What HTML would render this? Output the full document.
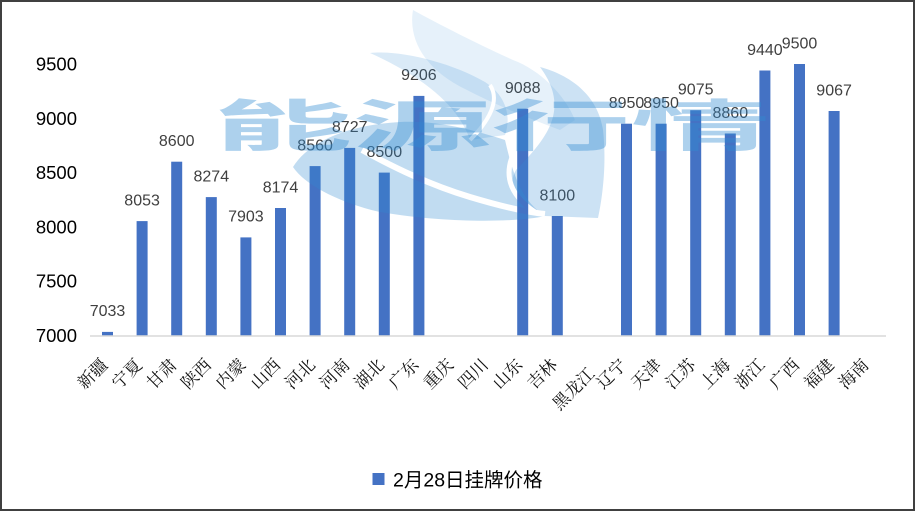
<!DOCTYPE html>
<html><head><meta charset="utf-8"><style>
html,body{margin:0;padding:0;background:#fff;}
svg{display:block;}
</style></head><body>
<svg width="915" height="511" viewBox="0 0 915 511" xmlns="http://www.w3.org/2000/svg">
<rect x="0" y="0" width="915" height="511" fill="#fff"/>
<!-- y labels -->
<g font-family="Liberation Sans, sans-serif" font-size="18.5" fill="#000" text-anchor="end">
<text x="77" y="70.5">9500</text>
<text x="77" y="124.8">9000</text>
<text x="77" y="179.1">8500</text>
<text x="77" y="233.4">8000</text>
<text x="77" y="287.7">7500</text>
<text x="77" y="342">7000</text>
</g>
<!-- bars -->
<g fill="#4472c4">
<rect x="102" y="331.9" width="11" height="3.6"/>
<rect x="136.6" y="221.1" width="11" height="114.4"/>
<rect x="171.2" y="161.7" width="11" height="173.8"/>
<rect x="205.8" y="197.1" width="11" height="138.4"/>
<rect x="240.4" y="237.4" width="11" height="98.1"/>
<rect x="275" y="208.0" width="11" height="127.5"/>
<rect x="309.6" y="166.1" width="11" height="169.4"/>
<rect x="344.2" y="147.9" width="11" height="187.6"/>
<rect x="378.8" y="172.6" width="11" height="162.9"/>
<rect x="413.4" y="95.9" width="11" height="239.6"/>
<rect x="517.2" y="108.7" width="11" height="226.8"/>
<rect x="551.8" y="216.0" width="11" height="119.5"/>
<rect x="621" y="123.7" width="11" height="211.8"/>
<rect x="655.6" y="123.7" width="11" height="211.8"/>
<rect x="690.2" y="110.2" width="11" height="225.3"/>
<rect x="724.8" y="133.5" width="11" height="202"/>
<rect x="759.4" y="70.5" width="11" height="265"/>
<rect x="794" y="64.0" width="11" height="271.5"/>
<rect x="828.6" y="111.0" width="11" height="224.5"/>
</g>
<!-- axis -->
<line x1="90" y1="336" x2="886" y2="336" stroke="#d9d9d9" stroke-width="1.6"/>
<!-- data labels -->
<g font-family="Liberation Sans, sans-serif" font-size="16" fill="#404040" text-anchor="middle">
<text x="107.5" y="316.2">7033</text>
<text x="142.1" y="205.4">8053</text>
<text x="176.7" y="146">8600</text>
<text x="211.3" y="181.4">8274</text>
<text x="245.9" y="221.7">7903</text>
<text x="280.5" y="192.3">8174</text>
<text x="315.1" y="150.4">8560</text>
<text x="349.7" y="132.2">8727</text>
<text x="384.3" y="156.9">8500</text>
<text x="418.9" y="80.2">9206</text>
<text x="522.7" y="93">9088</text>
<text x="557.3" y="200.3">8100</text>
<text x="626.5" y="108">8950</text>
<text x="661.1" y="108">8950</text>
<text x="695.7" y="94.5">9075</text>
<text x="730.3" y="117.8">8860</text>
<text x="764.9" y="54.8">9440</text>
<text x="799.5" y="48.3">9500</text>
<text x="834.1" y="95.3">9067</text>
</g>
<!-- x labels -->
<g font-family="Liberation Serif, Noto Serif CJK SC, serif" font-size="17" fill="#111" text-anchor="end">
<text transform="translate(108.5,366) rotate(-45)">新疆</text>
<text transform="translate(143.1,366) rotate(-45)">宁夏</text>
<text transform="translate(177.7,366) rotate(-45)">甘肃</text>
<text transform="translate(212.3,366) rotate(-45)">陕西</text>
<text transform="translate(246.9,366) rotate(-45)">内蒙</text>
<text transform="translate(281.5,366) rotate(-45)">山西</text>
<text transform="translate(316.1,366) rotate(-45)">河北</text>
<text transform="translate(350.7,366) rotate(-45)">河南</text>
<text transform="translate(385.3,366) rotate(-45)">湖北</text>
<text transform="translate(419.9,366) rotate(-45)">广东</text>
<text transform="translate(454.5,366) rotate(-45)">重庆</text>
<text transform="translate(489.1,366) rotate(-45)">四川</text>
<text transform="translate(523.7,366) rotate(-45)">山东</text>
<text transform="translate(558.3,366) rotate(-45)">吉林</text>
<text transform="translate(595.6,375) rotate(-45)">黑龙江</text>
<text transform="translate(627.5,366) rotate(-45)">辽宁</text>
<text transform="translate(662.1,366) rotate(-45)">天津</text>
<text transform="translate(696.7,366) rotate(-45)">江苏</text>
<text transform="translate(731.3,366) rotate(-45)">上海</text>
<text transform="translate(765.9,366) rotate(-45)">浙江</text>
<text transform="translate(800.5,366) rotate(-45)">广西</text>
<text transform="translate(835.1,366) rotate(-45)">福建</text>
<text transform="translate(869.7,366) rotate(-45)">海南</text>
</g>
<!-- legend -->
<rect x="372.5" y="473" width="12" height="12" fill="#4472c4"/>
<text x="393" y="486.5" font-family="Liberation Sans, Noto Sans CJK SC, sans-serif" font-size="19.5" fill="#000">2月28日挂牌价格</text>
<!-- watermark -->
<defs>
<mask id="wm" maskUnits="userSpaceOnUse" x="0" y="0" width="915" height="511">
<rect x="0" y="0" width="915" height="511" fill="#fff"/>
<path d="M362,150 C395,168 430,185 470,197 C500,206 525,212 545,214" stroke="#000" stroke-width="6" fill="none"/>
<path d="M515,150 C505,170 505,192 535,212" stroke="#000" stroke-width="5" fill="none"/>
<path d="M470,140 C490,120 500,100 490,85" stroke="#000" stroke-width="4" fill="none"/>
</mask>
</defs>
<g mask="url(#wm)">
<path d="M413,10 C408,40 425,70 467,90 C490,102 520,115 560,130 L575,120 C565,95 540,70 513,60 C480,45 440,25 413,10 Z" fill="rgb(50,140,210)" fill-opacity="0.12"/>
<path d="M370,53 C400,50 450,62 485,82 C505,95 512,115 505,135 L470,140 C460,110 430,80 370,53 Z" fill="rgb(50,140,210)" fill-opacity="0.18"/>
<path d="M540,67 C570,75 598,95 603,130 C607,165 602,200 598,218 L545,216 C518,206 506,186 516,170 C545,140 572,110 540,67 Z" fill="rgb(50,140,210)" fill-opacity="0.25"/>
<path d="M293,167 C310,140 350,125 400,122 C440,120 480,132 505,140 C512,170 520,200 545,216 C520,222 450,224 380,212 C340,203 305,185 293,167 Z" fill="rgb(50,140,210)" fill-opacity="0.3"/>
</g>
<text x="213" y="146" textLength="557" lengthAdjust="spacingAndGlyphs" font-family="Noto Sans CJK SC, sans-serif" font-weight="bold" font-size="56" fill="rgb(50,140,210)" fill-opacity="0.4">能源行情</text>
<!-- border -->
<rect x="1" y="1" width="913" height="509" fill="none" stroke="#404040" stroke-width="2"/>
</svg>
</body></html>
